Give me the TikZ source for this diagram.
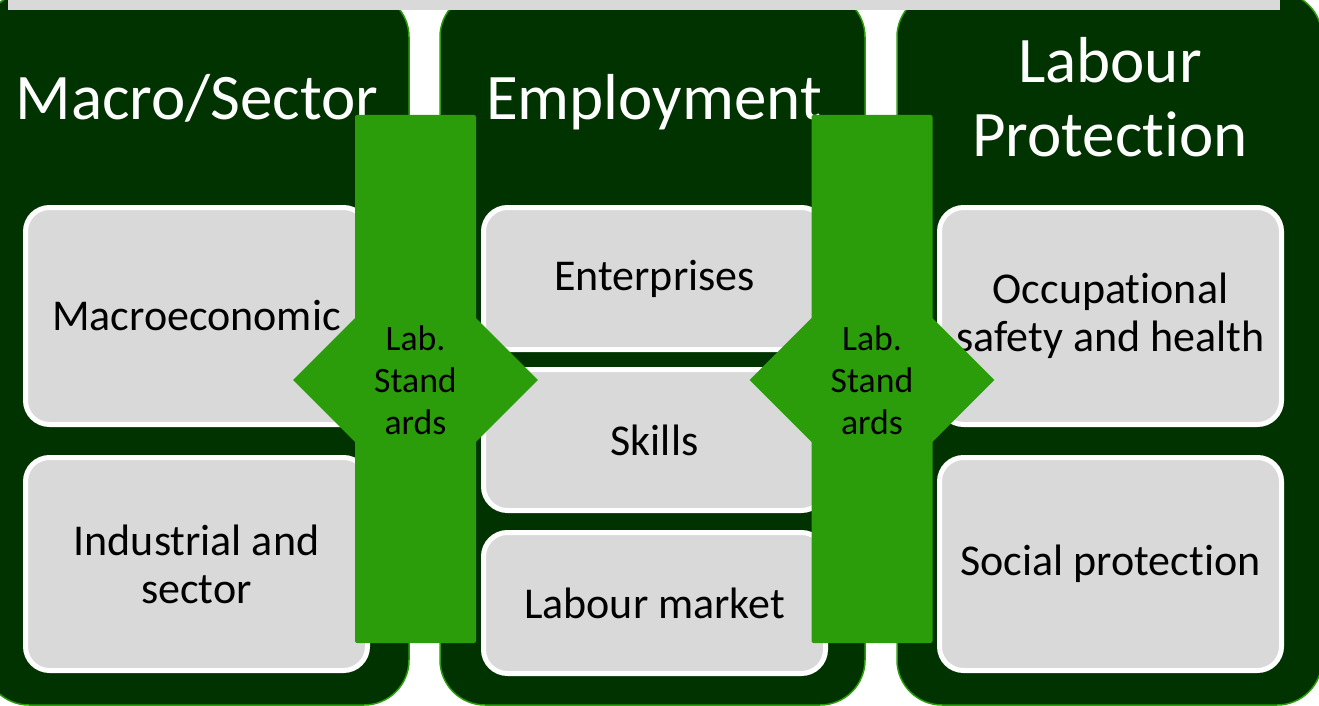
\documentclass[tikz,border=0pt]{standalone}
\usepackage{fontspec}
\setmainfont[Ligatures={NoCommon,NoRequired,NoContextual},Contextuals=NoAlternate]{Carlito}
\usepackage{tikz}
\usetikzlibrary{positioning}
\usetikzlibrary{shapes}
\definecolor{darkgreen}{RGB}{0,51,0}
\definecolor{bargreen}{RGB}{43,157,11}
\definecolor{boxgray}{RGB}{217,217,217}

\begin{document}
\begin{tikzpicture}[x=1pt,y=-1pt,
  column/.style={rectangle,rounded corners=45pt,fill=darkgreen,draw=bargreen,line width=1.5pt,minimum width=425pt,minimum height=713pt,inner sep=0pt},
  head/.style={text=white,font=\fontsize{65}{74}\selectfont,align=center,inner sep=0pt},
  panel/.style={rectangle,rounded corners=24pt,fill=boxgray,draw=white,line width=5pt,minimum width=342pt,inner sep=0pt,font=\fontsize{44}{48}\selectfont,align=center},
  bar/.style={rectangle,rounded corners=2pt,fill=bargreen,minimum width=121pt,minimum height=528pt,inner sep=0pt},
  std/.style={diamond,fill=bargreen,minimum width=245pt,minimum height=245pt,inner sep=0pt,font=\fontsize{35.7}{42}\selectfont,align=center}]

\useasboundingbox (0,0) rectangle (1319,706);

% the three pillars
\node[column] (macrocol) at (196.5,348.5) {};
\node[column] (emplcol) at (652.5,348.5) {};
\node[column] (protcol) at (1109.5,348.5) {};

\fill[boxgray] (8,0) rectangle (1280,10.5);

\node[head,anchor=base] (macrohead) at (197,120) {Macro/Sector};
\node[head,anchor=base] (emplhead) at (654,120) {Employment};
\node[head,anchor=base] (prothead) at (1110,157) {Labour\\Protection};

% grey boxes in each pillar
\node[panel,minimum height=217pt] (macro) at (196.5,316) {Macroeconomic};
\node[panel,minimum height=213pt] (industry) at (196.5,564) {Industrial and\\sector};

\node[panel,minimum height=142pt] (enterprises) at (654.5,278.5) {Enterprises};
\node[panel,minimum height=141pt] (skills) at (654.5,440) {Skills};
\node[panel,minimum height=141pt] (market) at (654.5,603) {Labour market};

\node[panel,minimum height=217pt] (osh) at (1110.5,316) {Occupational\\safety and health};
\node[panel,minimum height=213pt] (social) at (1110.5,564) {Social protection};

% labour standards crossing between pillars
\node[bar] (leftbar) at (415.5,379) {};
\node[std] (leftstd) at (415.5,380) {Lab.\\Stand\\ards};

\node[bar] (rightbar) at (872,379) {};
\node[std] (rightstd) at (872,380) {Lab.\\Stand\\ards};
\end{tikzpicture}
\end{document}
